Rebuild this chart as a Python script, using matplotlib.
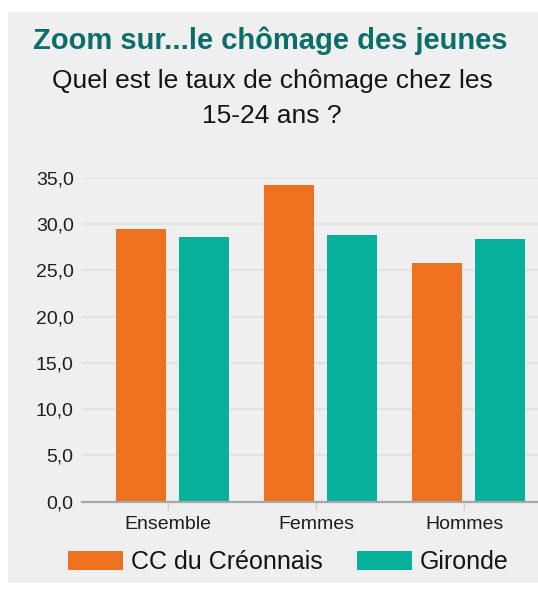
import matplotlib
matplotlib.use("Agg")
import matplotlib.pyplot as plt
from matplotlib.patches import Patch, Rectangle
from matplotlib.ticker import FuncFormatter
import numpy as np

plt.rcParams['font.family'] = ['Liberation Sans', 'DejaVu Sans']

categories = ["Ensemble", "Femmes", "Hommes"]
series_names = ["CC du Créonnais", "Gironde"]
cc_creonnais = [29.5, 34.2, 25.8]
gironde = [28.6, 28.8, 28.4]
y_ticks = [0, 5, 10, 15, 20, 25, 30, 35]

orange = "#ee7120"
teal = "#06b09b"
bg = "#efefef"

W, H = 538, 592
fig = plt.figure(figsize=(W / 100, H / 100), dpi=100)
fig.patch.set_facecolor("white")

# grey panel behind the chart
fig.patches.append(Rectangle((8 / W, 1 - 583 / H), 1 - 8 / W, (583 - 12) / H,
                             transform=fig.transFigure, facecolor=bg,
                             edgecolor="none", zorder=-5))

ax = fig.add_axes([82 / W, 1 - 501.7 / H, (538 - 82) / W, (501.7 - 178) / H])
ax.patch.set_alpha(0)

x = np.arange(len(categories))
bw = 0.338
off = 0.213
ax.bar(x - off, cc_creonnais, width=bw, color=orange, zorder=3)
ax.bar(x + off, gironde, width=bw, color=teal, zorder=3)

ax.set_xlim(-0.6115, 2.4696)
ax.set_ylim(0, 35)
ax.set_yticks(y_ticks)
ax.yaxis.set_major_formatter(FuncFormatter(lambda v, p: f"{v:.1f}".replace(".", ",")))
ax.grid(axis="y", color="#e2e2e2", linewidth=1.5, zorder=0)
ax.set_axisbelow(True)

ax.set_xticks(x - 0.03)
ax.set_xticklabels(categories)

for s in ["top", "right", "left"]:
    ax.spines[s].set_visible(False)
ax.spines["bottom"].set_color("#a8a8a8")
ax.spines["bottom"].set_linewidth(1.6)
ax.spines["bottom"].set_zorder(4)

ax.tick_params(axis="y", length=0, pad=6, labelsize=14, labelcolor="#1e1e1e")
ax.tick_params(axis="x", length=6, width=1, color="#cfcfcf", pad=4,
               labelsize=14, labelcolor="#1e1e1e")

# titles
fig.text(270 / W, 1 - 49 / H, "Zoom sur...le chômage des jeunes",
         ha="center", va="baseline", fontsize=21, fontweight="bold",
         color="#0b6e6a")
fig.text(272 / W, 1 - 88 / H, "Quel est le taux de chômage chez les",
         ha="center", va="baseline", fontsize=19, color="#151515")
fig.text(272 / W, 1 - 123 / H, "15-24 ans ?",
         ha="center", va="baseline", fontsize=19, color="#151515")

handles = [Patch(facecolor=orange, edgecolor="none"),
           Patch(facecolor=teal, edgecolor="none")]
fig.legend(handles, series_names, loc="center",
           bbox_to_anchor=(288.5 / W, 1 - 562 / H), ncol=2, frameon=False,
           fontsize=18, handlelength=2.2, handleheight=0.8,
           handletextpad=0.32, columnspacing=1.36, borderpad=0,
           labelcolor="#151515")

fig.savefig("out.png", dpi=100, facecolor="white")
